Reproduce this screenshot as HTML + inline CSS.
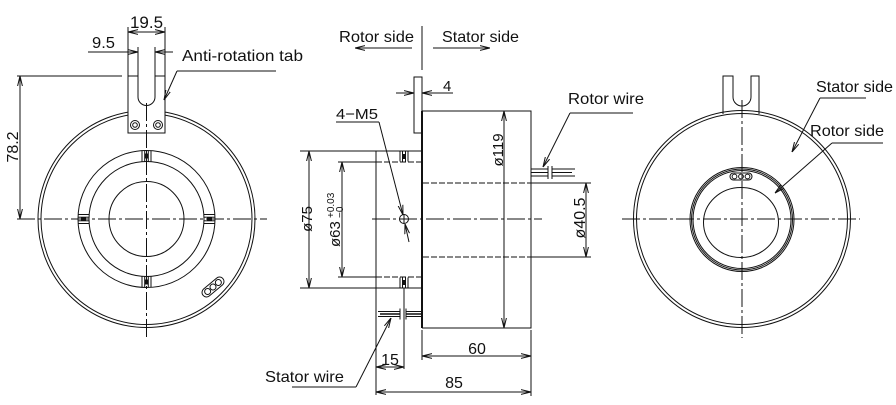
<!DOCTYPE html>
<html>
<head>
<meta charset="utf-8">
<style>
html,body{margin:0;padding:0;background:#fff;}
svg{display:block;}
text{font-family:"Liberation Sans",Arial,sans-serif;fill:#111;}
</style>
</head>
<body>
<svg width="896" height="405" viewBox="0 0 896 405" xmlns="http://www.w3.org/2000/svg">
<defs>
<marker id="ar" viewBox="0 0 10 6" refX="10" refY="3" markerWidth="10" markerHeight="6" markerUnits="userSpaceOnUse" orient="auto-start-reverse">
<path d="M0,0.6 L10,3 L0,5.4" fill="none" stroke="#111" stroke-width="1"/>
</marker>
</defs>
<rect width="896" height="405" fill="#fff"/>

<g fill="none" stroke="#111" stroke-width="1">
<!-- ================= LEFT VIEW ================= -->
<circle cx="146.5" cy="219" r="108.5"/>
<circle cx="146.5" cy="219" r="105.5"/>
<circle cx="146.5" cy="219" r="68.5"/>
<circle cx="146.5" cy="219" r="57.5"/>
<circle cx="146.5" cy="219" r="37.5"/>
<!-- ring tabs -->
<g transform="translate(146.5,219)">
  <g><line x1="-4.5" y1="-68.5" x2="-4.5" y2="-57.5"/><line x1="4.5" y1="-68.5" x2="4.5" y2="-57.5"/><line x1="-1.8" y1="-68.5" x2="-1.8" y2="-57.5"/><line x1="1.8" y1="-68.5" x2="1.8" y2="-57.5"/><rect x="-1" y="-65" width="2" height="4" fill="#111"/></g>
  <g transform="rotate(90)"><line x1="-4.5" y1="-68.5" x2="-4.5" y2="-57.5"/><line x1="4.5" y1="-68.5" x2="4.5" y2="-57.5"/><line x1="-1.8" y1="-68.5" x2="-1.8" y2="-57.5"/><line x1="1.8" y1="-68.5" x2="1.8" y2="-57.5"/><rect x="-1" y="-65" width="2" height="4" fill="#111"/></g>
  <g transform="rotate(180)"><line x1="-4.5" y1="-68.5" x2="-4.5" y2="-57.5"/><line x1="4.5" y1="-68.5" x2="4.5" y2="-57.5"/><line x1="-1.8" y1="-68.5" x2="-1.8" y2="-57.5"/><line x1="1.8" y1="-68.5" x2="1.8" y2="-57.5"/><rect x="-1" y="-65" width="2" height="4" fill="#111"/></g>
  <g transform="rotate(270)"><line x1="-4.5" y1="-68.5" x2="-4.5" y2="-57.5"/><line x1="4.5" y1="-68.5" x2="4.5" y2="-57.5"/><line x1="-1.8" y1="-68.5" x2="-1.8" y2="-57.5"/><line x1="1.8" y1="-68.5" x2="1.8" y2="-57.5"/><rect x="-1" y="-65" width="2" height="4" fill="#111"/></g>
</g>
<!-- oval with holes -->
<g transform="translate(213,287) rotate(-40)">
  <rect x="-13" y="-4.5" width="26" height="9" rx="4.5"/>
  <circle cx="-7" cy="0" r="3"/><circle cx="0" cy="0" r="3"/><circle cx="7" cy="0" r="3"/>
</g>
<!-- anti-rotation tab -->
<path d="M128,133 V76 H138 V97 A8.5,8.5 0 0 0 155,97 V76 H165 V133 Z" fill="#fff"/>
<circle cx="135" cy="125" r="4.5"/><circle cx="135" cy="125" r="2.3"/>
<circle cx="158" cy="125" r="4.5"/><circle cx="158" cy="125" r="2.3"/>
<!-- centerlines -->
<line x1="17" y1="219" x2="267" y2="219" stroke-dasharray="18 3 3 3"/>
<line x1="146.5" y1="103" x2="146.5" y2="338" stroke-dasharray="18 3 3 3"/>
<!-- 19.5 -->
<line x1="128" y1="27" x2="128" y2="76"/>
<line x1="165" y1="27" x2="165" y2="76"/>
<line x1="128" y1="32" x2="165" y2="32" marker-start="url(#ar)" marker-end="url(#ar)"/>
<!-- 9.5 -->
<line x1="138" y1="47" x2="138" y2="76"/>
<line x1="155" y1="47" x2="155" y2="76"/>
<line x1="88" y1="52" x2="138" y2="52" marker-end="url(#ar)"/>
<line x1="173" y1="52" x2="155" y2="52" marker-end="url(#ar)"/>
<!-- 78.2 -->
<line x1="17" y1="76" x2="122" y2="76"/>
<line x1="20" y1="76" x2="20" y2="219" marker-start="url(#ar)" marker-end="url(#ar)"/>
<!-- anti-rotation leader -->
<polyline points="276,71 177,71"/>
<line x1="177" y1="71" x2="164" y2="100" marker-end="url(#ar)"/>

<!-- ================= MIDDLE VIEW ================= -->
<line x1="412" y1="48" x2="355" y2="48" marker-end="url(#ar)"/>
<line x1="433" y1="48" x2="490" y2="48" marker-end="url(#ar)"/>
<line x1="422" y1="26" x2="422" y2="70"/>
<!-- flange -->
<rect x="414" y="77" width="8" height="56"/>
<!-- 4 dim -->
<line x1="396" y1="93" x2="414" y2="93" marker-end="url(#ar)"/>
<line x1="453" y1="93" x2="422" y2="93" marker-end="url(#ar)"/>
<!-- body -->
<polyline points="422,111 531,111 531,328 422,328"/>
<line x1="422" y1="111" x2="422" y2="328" stroke-width="2"/>
<!-- rotor -->
<line x1="300" y1="151" x2="422" y2="151"/>
<line x1="300" y1="288" x2="422" y2="288"/>
<line x1="376" y1="151" x2="376" y2="395"/>
<line x1="338" y1="162" x2="376" y2="162"/>
<line x1="338" y1="277" x2="376" y2="277"/>
<line x1="376" y1="162" x2="422" y2="162" stroke-dasharray="6 2"/>
<line x1="376" y1="277" x2="422" y2="277" stroke-dasharray="6 2"/>
<!-- rotor tab marks -->
<g transform="translate(404,156.5)"><line x1="-4" y1="-5" x2="-4" y2="5"/><line x1="4" y1="-5" x2="4" y2="5"/><line x1="-1.5" y1="-5" x2="-1.5" y2="5"/><line x1="1.5" y1="-5" x2="1.5" y2="5"/><rect x="-1" y="-2" width="2" height="4" fill="#111"/></g>
<g transform="translate(404,282.5)"><line x1="-4" y1="-5" x2="-4" y2="5"/><line x1="4" y1="-5" x2="4" y2="5"/><line x1="-1.5" y1="-5" x2="-1.5" y2="5"/><line x1="1.5" y1="-5" x2="1.5" y2="5"/><rect x="-1" y="-2" width="2" height="4" fill="#111"/></g>
<!-- centerline -->
<line x1="372" y1="219" x2="542" y2="219" stroke-dasharray="18 3 3 3"/>
<!-- 4-M5 hole -->
<circle cx="404" cy="219" r="4.5"/>
<line x1="400" y1="219" x2="408" y2="219"/>
<line x1="404" y1="215" x2="404" y2="223"/>
<line x1="336" y1="122" x2="379" y2="122"/>
<line x1="379" y1="122" x2="403" y2="215" marker-end="url(#ar)"/>
<line x1="409" y1="242" x2="405" y2="224" marker-end="url(#ar)"/>
<!-- ø75 / ø63 -->
<line x1="309" y1="151" x2="309" y2="288" marker-start="url(#ar)" marker-end="url(#ar)"/>
<line x1="342" y1="162" x2="342" y2="277" marker-start="url(#ar)" marker-end="url(#ar)"/>
<!-- ø119 -->
<line x1="504" y1="111" x2="504" y2="328" marker-start="url(#ar)" marker-end="url(#ar)"/>
<!-- bore -->
<line x1="423" y1="183" x2="531" y2="183" stroke-dasharray="6 2"/>
<line x1="423" y1="257" x2="531" y2="257" stroke-dasharray="6 2"/>
<line x1="531" y1="183" x2="591" y2="183"/>
<line x1="531" y1="257" x2="591" y2="257"/>
<line x1="586" y1="183" x2="586" y2="257" marker-start="url(#ar)" marker-end="url(#ar)"/>
<!-- rotor wire -->
<line x1="531" y1="169" x2="548" y2="169"/>
<line x1="531" y1="172.5" x2="548" y2="172.5"/>
<line x1="531" y1="176" x2="548" y2="176"/>
<line x1="548" y1="166" x2="548" y2="179"/>
<line x1="552" y1="166" x2="552" y2="179"/>
<line x1="552" y1="169" x2="575" y2="169"/>
<line x1="552" y1="172.5" x2="572" y2="172.5"/>
<line x1="552" y1="176" x2="575" y2="176"/>
<line x1="570" y1="113" x2="633" y2="113"/>
<line x1="570" y1="113" x2="543" y2="167" marker-end="url(#ar)"/>
<!-- stator wire -->
<line x1="378" y1="311.5" x2="400" y2="311.5"/>
<line x1="380" y1="314" x2="400" y2="314" stroke-width="1.5"/>
<line x1="378" y1="316.5" x2="400" y2="316.5"/>
<line x1="400" y1="308.5" x2="400" y2="319.5"/>
<line x1="404" y1="288" x2="404" y2="369"/>
<line x1="406" y1="311.5" x2="422" y2="311.5"/>
<line x1="406" y1="314" x2="422" y2="314" stroke-width="1.5"/>
<line x1="406" y1="316.5" x2="422" y2="316.5"/>
<line x1="406" y1="308.5" x2="406" y2="319.5"/>
<line x1="292" y1="387" x2="356" y2="387"/>
<line x1="356" y1="387" x2="391" y2="318" marker-end="url(#ar)"/>
<!-- 15 / 60 / 85 -->
<line x1="376" y1="367" x2="404" y2="367" marker-start="url(#ar)" marker-end="url(#ar)"/>
<line x1="422" y1="330" x2="422" y2="360"/>
<line x1="531" y1="330" x2="531" y2="396"/>
<line x1="422" y1="356" x2="531" y2="356" marker-start="url(#ar)" marker-end="url(#ar)"/>
<line x1="376" y1="392" x2="531" y2="392" marker-start="url(#ar)" marker-end="url(#ar)"/>

<!-- ================= RIGHT VIEW ================= -->
<path d="M723,114 V76 H733 V97 A9,9 0 0 0 751,97 V76 H759 V114" fill="#fff"/>
<circle cx="742" cy="219" r="108.5"/>
<circle cx="742" cy="219" r="105.5"/>
<circle cx="742" cy="219.5" r="52"/>
<circle cx="742" cy="219.5" r="50.5"/>
<circle cx="742" cy="219.5" r="49"/>
<ellipse cx="741" cy="222.5" rx="37.5" ry="35"/>
<g transform="translate(741,176.5)">
  <rect x="-11" y="-3.5" width="22" height="7" rx="3.5"/>
  <circle cx="-6.5" cy="0" r="2.4"/><circle cx="0" cy="0" r="2.4"/><circle cx="6.5" cy="0" r="2.4"/>
</g>
<line x1="622" y1="219" x2="860" y2="219" stroke-dasharray="18 3 3 3"/>
<line x1="742" y1="100" x2="742" y2="338" stroke-dasharray="18 3 3 3"/>
<line x1="820" y1="98" x2="866" y2="98"/>
<line x1="820" y1="98" x2="792" y2="152" marker-end="url(#ar)"/>
<line x1="832" y1="143" x2="883" y2="143"/>
<line x1="832" y1="143" x2="775" y2="193" marker-end="url(#ar)"/>
</g>

<!-- ================= TEXT ================= -->
<text x="146.5" y="28" font-size="17" text-anchor="middle">19.5</text>
<text x="92" y="48" font-size="16" textLength="23" lengthAdjust="spacingAndGlyphs">9.5</text>
<text x="182" y="61" font-size="16" textLength="121" lengthAdjust="spacingAndGlyphs">Anti-rotation tab</text>
<text transform="translate(18,147) rotate(-90)" font-size="16" text-anchor="middle">78.2</text>

<text x="339" y="42" font-size="16" textLength="75" lengthAdjust="spacingAndGlyphs">Rotor side</text>
<text x="442" y="42" font-size="16" textLength="77" lengthAdjust="spacingAndGlyphs">Stator side</text>
<text x="443" y="91" font-size="15">4</text>
<text x="336" y="119" font-size="15" textLength="42" lengthAdjust="spacingAndGlyphs">4−M5</text>
<text transform="translate(312,219) rotate(-90)" font-size="15" text-anchor="middle">ø75</text>
<g transform="translate(340,247) rotate(-90)">
  <text x="0" y="0" font-size="15">ø63</text>
  <text x="29" y="-6" font-size="10">+0.03</text>
  <text x="29" y="3" font-size="10">−0</text>
</g>
<text transform="translate(503,150) rotate(-90)" font-size="15" text-anchor="middle">ø119</text>
<text transform="translate(585,218) rotate(-90)" font-size="16" text-anchor="middle">ø40.5</text>
<text x="568" y="104" font-size="16" textLength="76" lengthAdjust="spacingAndGlyphs">Rotor wire</text>
<text x="477" y="354" font-size="16" text-anchor="middle">60</text>
<text x="454" y="388" font-size="16" text-anchor="middle">85</text>
<text x="390" y="365" font-size="16" text-anchor="middle">15</text>
<text x="265" y="382" font-size="16" textLength="79" lengthAdjust="spacingAndGlyphs">Stator wire</text>

<text x="816" y="92" font-size="16" textLength="77" lengthAdjust="spacingAndGlyphs">Stator side</text>
<text x="810" y="136" font-size="16" textLength="74" lengthAdjust="spacingAndGlyphs">Rotor side</text>
</svg>
</body>
</html>
